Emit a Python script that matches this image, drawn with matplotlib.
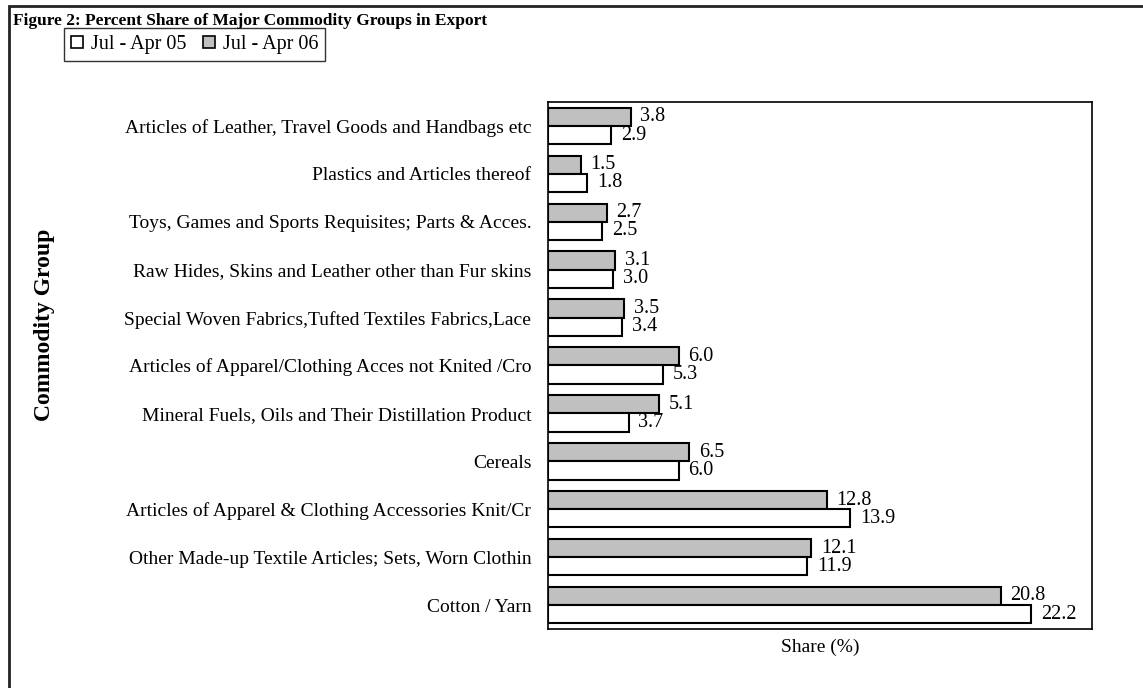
import matplotlib
matplotlib.use("Agg")
import matplotlib.pyplot as plt
from matplotlib.patches import Rectangle, Patch
import numpy as np

plt.rcParams['font.family'] = ['Liberation Serif', 'DejaVu Serif']

categories = [
    "Articles of Leather, Travel Goods and Handbags etc",
    "Plastics and Articles thereof",
    "Toys, Games and Sports Requisites; Parts & Acces.",
    "Raw Hides, Skins and Leather other than Fur skins",
    "Special Woven Fabrics,Tufted Textiles Fabrics,Lace",
    "Articles of Apparel/Clothing Acces not Knited /Cro",
    "Mineral Fuels, Oils and Their Distillation Product",
    "Cereals",
    "Articles of Apparel & Clothing Accessories Knit/Cr",
    "Other Made-up Textile Articles; Sets, Worn Clothin",
    "Cotton / Yarn",
]
share_05 = [2.9, 1.8, 2.5, 3.0, 3.4, 5.3, 3.7, 6.0, 13.9, 11.9, 22.2]
share_06 = [3.8, 1.5, 2.7, 3.1, 3.5, 6.0, 5.1, 6.5, 12.8, 12.1, 20.8]

fig = plt.figure(figsize=(11.43, 6.88), dpi=100)
ax = fig.add_axes([548 / 1143, 1 - 629 / 688, (1092 - 548) / 1143, (629 - 102) / 688])

y = np.arange(len(categories))
h = 0.38
gray = "#C0C0C0"
ax.barh(y - h / 2, share_06, height=h, color=gray, edgecolor="black", linewidth=1.5)
ax.barh(y + h / 2, share_05, height=h, color="white", edgecolor="black", linewidth=1.5)

for yi, v in zip(y, share_06):
    ax.text(v + 0.45, yi - h / 2, f"{v:.1f}", va="center", ha="left", fontsize=14.5)
for yi, v in zip(y, share_05):
    ax.text(v + 0.45, yi + h / 2, f"{v:.1f}", va="center", ha="left", fontsize=14.5)

ax.set_xlim(0, 25)
ax.set_ylim(len(categories) - 0.5, -0.5)
ax.set_yticks(y)
ax.set_yticklabels(categories, fontsize=14)
ax.set_xticks([])
ax.tick_params(axis="y", length=0, pad=12)
for s in ax.spines.values():
    s.set_linewidth(1.2)
    s.set_color("black")
ax.set_xlabel("Share (%)", fontsize=14, labelpad=7)

fig.text(45 / 1143, 1 - 325 / 688, "Commodity Group", fontsize=17, fontweight="bold",
         rotation=90, va="center", ha="center")

fig.text(13 / 1143, 1 - 21 / 688, "Figure 2: Percent Share of Major Commodity Groups in Export",
         fontsize=12.5, fontweight="bold", va="center", ha="left")

handles = [Patch(facecolor="white", edgecolor="black", linewidth=1.2),
           Patch(facecolor=gray, edgecolor="black", linewidth=1.2)]
leg = fig.legend(handles, ["Jul - Apr 05", "Jul - Apr 06"], ncol=2, loc="upper left",
                 bbox_to_anchor=(64 / 1143, 1 - 28 / 688), fontsize=14.5, frameon=True,
                 fancybox=False, edgecolor="black", handlelength=0.6, handleheight=0.6,
                 handletextpad=0.4, columnspacing=0.8, borderpad=0.35, borderaxespad=0)
leg.get_frame().set_linewidth(1.0)

fig.patches.append(Rectangle((9 / 1143, -0.1), 1.2, 1.1 - 6 / 688, transform=fig.transFigure,
                             fill=False, edgecolor="#222222", linewidth=2))

fig.savefig("out.png", dpi=100)
